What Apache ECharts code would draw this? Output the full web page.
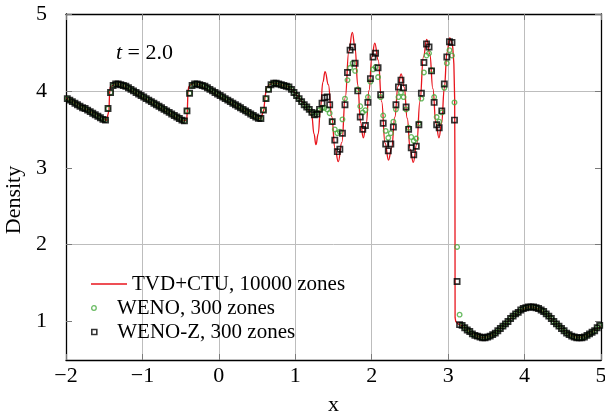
<!DOCTYPE html>
<html>
<head>
<meta charset="utf-8">
<script src="https://cdn.jsdelivr.net/npm/echarts@6/dist/echarts.min.js"></script>
<style>html,body{margin:0;padding:0;background:#fff;}#c{width:605px;height:417px;}</style>
</head>
<body>
<div id="c"></div>
<script>
// Cell centres of the 300-zone runs (visible part, x in [-2, 5])
const zoneX = [
-1.983,-1.950,-1.917,-1.883,-1.850,-1.817,-1.783,-1.750,-1.717,-1.683,-1.650,-1.617,-1.583,-1.550,-1.517,-1.483,-1.450,-1.417,-1.383,-1.350,-1.317,-1.283,-1.250,-1.217,-1.183,-1.150,-1.117,-1.083,-1.050,-1.017,
-0.983,-0.950,-0.917,-0.883,-0.850,-0.817,-0.783,-0.750,-0.717,-0.683,-0.650,-0.617,-0.583,-0.550,-0.517,-0.483,-0.450,-0.417,-0.383,-0.350,-0.317,-0.283,-0.250,-0.217,-0.183,-0.150,-0.117,-0.083,-0.050,-0.017,
0.017,0.050,0.083,0.117,0.150,0.183,0.217,0.250,0.283,0.317,0.350,0.383,0.417,0.450,0.483,0.517,0.550,0.583,0.617,0.650,0.683,0.717,0.750,0.783,0.817,0.850,0.883,0.917,0.950,0.983,
1.017,1.050,1.083,1.117,1.150,1.183,1.217,1.250,1.283,1.317,1.350,1.383,1.417,1.450,1.483,1.517,1.550,1.583,1.617,1.650,1.683,1.717,1.750,1.783,1.817,1.850,1.883,1.917,1.950,1.983,
2.017,2.050,2.083,2.117,2.150,2.183,2.217,2.250,2.283,2.317,2.350,2.383,2.417,2.450,2.483,2.517,2.550,2.583,2.617,2.650,2.683,2.717,2.750,2.783,2.817,2.850,2.883,2.917,2.950,2.983,
3.017,3.050,3.083,3.117,3.150,3.183,3.217,3.250,3.283,3.317,3.350,3.383,3.417,3.450,3.483,3.517,3.550,3.583,3.617,3.650,3.683,3.717,3.750,3.783,3.817,3.850,3.883,3.917,3.950,3.983,
4.017,4.050,4.083,4.117,4.150,4.183,4.217,4.250,4.283,4.317,4.350,4.383,4.417,4.450,4.483,4.517,4.550,4.583,4.617,4.650,4.683,4.717,4.750,4.783,4.817,4.850,4.883,4.917,4.950,4.983
];

// WENO-Z, 300 zones (density)
const wenoZ = [
3.90,3.88,3.86,3.84,3.82,3.80,3.78,3.77,3.75,3.73,3.71,3.69,3.67,3.65,3.63,3.62,3.77,3.98,4.07,4.09,4.09,4.08,4.07,4.06,4.04,4.02,4.00,3.98,3.96,3.94,
3.92,3.90,3.88,3.86,3.84,3.82,3.80,3.78,3.76,3.74,3.72,3.70,3.68,3.66,3.64,3.62,3.61,3.74,3.97,4.07,4.09,4.09,4.08,4.07,4.06,4.04,4.02,4.00,3.98,3.96,
3.94,3.92,3.90,3.88,3.86,3.84,3.82,3.80,3.78,3.76,3.74,3.72,3.70,3.68,3.66,3.645,3.64,3.75,3.90,4.02,4.08,4.10,4.10,4.09,4.08,4.07,4.06,4.05,4.02,3.98,
3.94,3.90,3.86,3.82,3.79,3.76,3.72,3.69,3.70,3.76,3.84,3.91,3.92,3.82,3.60,3.36,3.21,3.24,3.45,3.82,4.24,4.53,4.57,4.36,4.00,3.66,3.50,3.55,3.85,4.16,
4.44,4.49,4.30,3.95,3.58,3.31,3.22,3.31,3.53,3.82,4.05,4.14,4.04,3.79,3.50,3.26,3.17,3.28,3.56,3.97,4.37,4.61,4.57,4.26,3.85,3.56,3.52,3.74,4.09,4.44,
4.64,4.63,3.62,1.52,0.96,0.95,0.92,0.89,0.87,0.84,0.82,0.81,0.80,0.79,0.79,0.80,0.81,0.83,0.85,0.88,0.91,0.94,0.97,1.00,1.04,1.07,1.10,1.12,1.15,1.17,
1.18,1.19,1.19,1.19,1.18,1.17,1.15,1.13,1.10,1.07,1.04,1.00,0.97,0.94,0.91,0.88,0.85,0.83,0.81,0.80,0.79,0.79,0.79,0.80,0.82,0.84,0.86,0.88,0.92,0.95
];

// WENO, 300 zones (density)
const weno = [
3.90,3.88,3.86,3.84,3.82,3.80,3.78,3.77,3.75,3.73,3.71,3.69,3.67,3.65,3.63,3.62,3.77,3.98,4.07,4.09,4.09,4.08,4.07,4.06,4.04,4.02,4.00,3.98,3.96,3.94,
3.92,3.90,3.88,3.86,3.84,3.82,3.80,3.78,3.76,3.74,3.72,3.70,3.68,3.66,3.64,3.62,3.61,3.74,3.97,4.07,4.09,4.09,4.08,4.07,4.06,4.04,4.02,4.00,3.98,3.96,
3.94,3.92,3.90,3.88,3.86,3.84,3.82,3.80,3.78,3.76,3.74,3.72,3.70,3.68,3.66,3.645,3.64,3.75,3.90,4.02,4.08,4.10,4.10,4.09,4.08,4.07,4.06,4.05,4.02,3.98,
3.94,3.90,3.86,3.82,3.79,3.76,3.72,3.69,3.72,3.75,3.78,3.78,3.76,3.71,3.60,3.50,3.45,3.47,3.63,3.90,4.14,4.30,4.36,4.26,4.02,3.80,3.72,3.75,3.92,4.12,
4.28,4.31,4.18,3.92,3.68,3.48,3.39,3.45,3.60,3.76,3.92,3.98,3.92,3.76,3.52,3.40,3.35,3.38,3.58,3.90,4.24,4.46,4.49,4.27,3.92,3.66,3.60,3.72,4.04,4.36,
4.53,4.46,3.85,1.97,1.09,0.95,0.92,0.89,0.87,0.84,0.82,0.81,0.80,0.79,0.79,0.80,0.81,0.83,0.85,0.88,0.91,0.94,0.97,1.00,1.04,1.07,1.10,1.12,1.15,1.17,
1.18,1.19,1.19,1.19,1.18,1.17,1.15,1.13,1.10,1.07,1.04,1.00,0.97,0.94,0.91,0.88,0.85,0.83,0.81,0.80,0.79,0.79,0.79,0.80,0.82,0.84,0.86,0.88,0.92,0.95
];

// TVD+CTU, 10000 zones: reference solution
const tvdSaw = [
[-2.0,3.91],[-1.47,3.615],[-1.445,3.63],[-1.437,3.75],[-1.43,3.98],[-1.42,4.05],[-1.40,4.075],[-1.36,4.09],[-1.31,4.09],[-1.25,4.07],
[-0.50,3.625],[-0.45,3.61],[-0.42,3.63],[-0.412,3.75],[-0.405,3.98],[-0.395,4.05],[-0.37,4.08],[-0.33,4.09],[-0.28,4.09],[-0.25,4.08],
[0.50,3.65],[0.55,3.64],[0.575,3.66],[0.59,3.76],[0.605,3.93],[0.625,4.04],[0.66,4.08],[0.72,4.10],[0.78,4.09],[0.85,4.07],[0.92,4.05],
[0.98,3.99],[1.05,3.91],[1.12,3.82],[1.18,3.74]
];
const tvdWave = [
[1.18,3.74],[1.215,3.68],[1.245,3.44],[1.27,3.30],[1.30,3.44],[1.33,3.775],[1.36,4.11],[1.39,4.25],[1.433,4.08],[1.4765,3.665],[1.52,3.25],
[1.563,3.08],[1.609,3.33],[1.6545,3.92],[1.70,4.51],[1.746,4.76],[1.782,4.56],[1.818,4.075],[1.854,3.59],[1.89,3.39],[1.9275,3.57],
[1.965,4.005],[2.0025,4.44],[2.04,4.62],[2.085,4.40],[2.13,3.86],[2.175,3.32],[2.22,3.10],[2.261,3.26],[2.3025,3.66],[2.344,4.06],
[2.385,4.22],[2.425,4.05],[2.4645,3.645],[2.504,3.24],[2.544,3.07],[2.588,3.30],[2.632,3.87],[2.676,4.44],[2.72,4.67],[2.76,4.48],
[2.80,4.03],[2.84,3.58],[2.88,3.39],[2.915,3.58],[2.95,4.04],[2.985,4.50],[3.02,4.69],[3.045,4.63]
];
const tvdShock = [
[3.045,4.63],[3.06,4.57],[3.075,4.35],[3.085,3.9],[3.089,3.0],[3.091,1.05],[3.10,1.00],[3.13,0.97],[3.20,0.935],[3.30,0.855],[3.40,0.80],
[3.46,0.79],[3.55,0.81],[3.65,0.88],[3.75,0.97],[3.85,1.07],[3.95,1.15],[4.05,1.19],[4.10,1.19],[4.20,1.16],[4.30,1.085],[4.40,0.985],
[4.50,0.895],[4.60,0.82],[4.70,0.79],[4.80,0.81],[4.90,0.875],[5.0,0.935]
];

const yTicks = [1,2,3,4,5];
const NAME_TVD = 'TVD+CTU, 10000 zones';
const NAME_WENO = 'WENO, 300 zones';
const NAME_WZ = 'WENO-Z, 300 zones';

const FONT = 'Liberation Serif';
const RED = '#e8141c';
const GREEN = '#45aa3c';
const TICK = '#7a7a7a';
const GRIDC = '#bdbdbd';

const fmt = v => v < 0 ? '\u2212' + Math.abs(v) : String(v);
const textBase = {fontFamily: FONT, fontSize: 22, color: '#000'};
const legendText = {fontFamily: FONT, fontSize: 21, color: '#000', lineHeight: 22};

const chart = echarts.init(document.getElementById('c'), null, {renderer: 'canvas'});
const redLine = {color: RED, width: 1.3};
const frame = {show: true, onZero: false, lineStyle: {color: '#000', width: 1.3}};

chart.setOption({
  animation: false,
  backgroundColor: '#fff',
  title: {
    text: '{i|t} = 2.0', left: 111, top: 37,
    textStyle: {fontFamily: FONT, fontSize: 22, fontWeight: 'normal', color: '#000',
      rich: {i: {fontFamily: FONT, fontSize: 22, fontStyle: 'italic', color: '#000'}}}
  },
  grid: {left: 66, right: 4, top: 14, bottom: 57, show: false, containLabel: false, outerBoundsMode: 'none'},
  legend: [
    {data: [{name: NAME_TVD, icon: 'rect', itemStyle: {color: RED, borderWidth: 0}}],
     left: 91, top: 273, itemWidth: 36, itemHeight: 1.5, padding: 0, textStyle: legendText},
    {data: [{name: NAME_WENO, icon: 'circle', itemStyle: {color: 'rgba(0,0,0,0)', borderColor: GREEN, borderWidth: 1.3}}],
     left: 91, top: 297, itemWidth: 36, itemHeight: 4.6, padding: 0, textStyle: legendText},
    {data: [{name: NAME_WZ, icon: 'path://M0,0L5,0L5,5L0,5Z', itemStyle: {color: 'rgba(0,0,0,0)', borderColor: '#000', borderWidth: 1.6}}],
     left: 91, top: 321, itemWidth: 36, itemHeight: 5, padding: 0, textStyle: legendText}
  ],
  xAxis: [
    {type: 'value', min: -2, max: 5, interval: 1, position: 'bottom',
     name: 'x', nameLocation: 'middle', nameGap: 34, nameTextStyle: textBase,
     axisLine: frame,
     axisTick: {show: true, inside: true, length: 6, lineStyle: {color: TICK, width: 1}},
     axisLabel: Object.assign({margin: 5, formatter: fmt}, textBase),
     splitLine: {show: true, lineStyle: {color: GRIDC, width: 1, type: 'solid'}}},
    {type: 'value', min: -2, max: 5, interval: 1, position: 'top',
     axisLine: frame,
     axisTick: {show: true, inside: true, length: 6, lineStyle: {color: TICK, width: 1}},
     axisLabel: {show: false}, splitLine: {show: false}}
  ],
  yAxis: [
    {type: 'value', min: 0.5, max: 5, interval: 0.5, position: 'left',
     name: 'Density', nameLocation: 'middle', nameGap: 34,
     nameTextStyle: Object.assign({padding: [0, 26, 0, 0]}, textBase),
     axisLine: frame,
     axisTick: {show: true, inside: true, length: 6, customValues: yTicks, lineStyle: {color: TICK, width: 1}},
     axisLabel: Object.assign({margin: 19, customValues: yTicks, formatter: fmt}, textBase),
     splitLine: {show: true, showMinLine: true, showMaxLine: true,
       lineStyle: {color: ['rgba(0,0,0,0)', GRIDC], width: 1, type: 'solid'}}},
    {type: 'value', min: 0.5, max: 5, position: 'right',
     axisLine: frame,
     axisTick: {show: true, inside: true, length: 6, customValues: yTicks, lineStyle: {color: TICK, width: 1}},
     axisLabel: {show: false}, splitLine: {show: false}}
  ],
  series: [
    {name: NAME_TVD, type: 'line', data: tvdSaw, showSymbol: false, symbol: 'none', lineStyle: redLine, itemStyle: {color: RED}, z: 2},
    {name: NAME_TVD, type: 'line', data: tvdWave, smooth: 0.45, smoothMonotone: 'x', showSymbol: false, symbol: 'none', lineStyle: redLine, itemStyle: {color: RED}, z: 2},
    {name: NAME_TVD, type: 'line', data: tvdShock, showSymbol: false, symbol: 'none', lineStyle: redLine, itemStyle: {color: RED}, z: 2},
    {name: NAME_WENO, type: 'scatter', data: zoneX.map((x, i) => [x, weno[i]]), symbol: 'circle', symbolSize: 4.6,
     itemStyle: {color: 'rgba(0,0,0,0)', borderColor: GREEN, borderWidth: 1.3}, z: 3},
    {name: NAME_WZ, type: 'scatter', data: zoneX.map((x, i) => [x, wenoZ[i]]), symbol: 'rect', symbolSize: 5.2,
     itemStyle: {color: 'rgba(0,0,0,0)', borderColor: '#000', borderWidth: 1.7}, z: 4}
  ]
});
</script>
</body>
</html>
